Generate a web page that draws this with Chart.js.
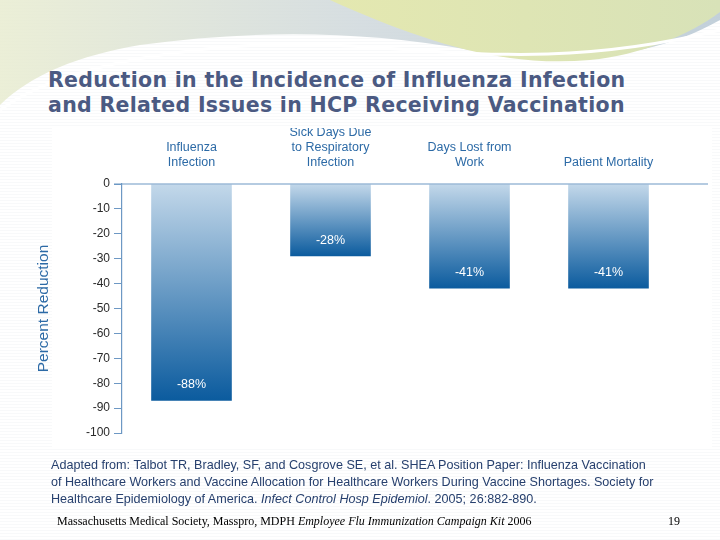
<!DOCTYPE html>
<html>
<head>
<meta charset="utf-8">
<script src="https://cdn.jsdelivr.net/npm/chart.js@4/dist/chart.umd.min.js"></script>
<style>
  body { margin: 0; }
  #slide { position: relative; width: 720px; height: 540px; overflow: hidden;
    background: repeating-linear-gradient(180deg, #ffffff 0px, #ffffff 2px, #f1f3f5 3px); }
  #panel { position: absolute; left: 52px; top: 128px; width: 660px; height: 320px; background: #fff; }
  #wave { position: absolute; left: 0; top: 0; }
  #titel { position: absolute; left: 48px; top: 68px; margin: 0; font: bold 20.5px "DejaVu Sans", sans-serif;
    color: #4b5a82; line-height: 25px; letter-spacing: 0.3px; }
  canvas { position: absolute; left: 0; top: 0; }
  #zdroj { position: absolute; left: 51px; top: 457px; font: 12.6px "Liberation Sans", Arial, sans-serif;
    color: #27406e; line-height: 17px; }
  #paticka { position: absolute; left: 57px; top: 514px; font: 12px "Liberation Serif", serif; color: #000; }
  #strana { position: absolute; left: 668px; top: 514px; font: 12px "Liberation Serif", serif; color: #000; }
</style>
</head>
<body>
<div id="slide">
  <svg id="wave" width="720" height="140">
    <defs>
      <linearGradient id="g1" x1="0" x2="1"><stop offset="0" stop-color="#e8ecd0"/><stop offset="0.5" stop-color="#cfd8dc"/><stop offset="1" stop-color="#b8c8d4"/></linearGradient>
      <linearGradient id="g2" x1="0" x2="1"><stop offset="0" stop-color="#e4e8b0"/><stop offset="1" stop-color="#d8e2b8"/></linearGradient>
    </defs>
    <path d="M0 0 H720 V20 C650 60 560 65 470 50 C360 30 250 30 140 45 C80 55 30 75 0 105 Z" fill="url(#g1)" opacity="0.85"/>
    <path d="M330 0 H720 V12 C690 35 640 55 590 60 C500 68 420 40 330 0 Z" fill="url(#g2)"/>
    <path d="M0 110 C60 65 200 40 330 45 C450 50 560 70 720 30" stroke="#ffffff" stroke-width="3" fill="none"/>
  </svg>
  <div id="panel"></div>
  <h1 id="titel">Reduction in the Incidence of Influenza Infection<br>and Related Issues in HCP Receiving Vaccination</h1>
  <canvas id="graf" width="720" height="540"></canvas>
  <div id="zdroj">Adapted from: Talbot TR, Bradley, SF, and Cosgrove SE, et al. SHEA Position Paper: Influenza Vaccination<br>of Healthcare Workers and Vaccine Allocation for Healthcare Workers During Vaccine Shortages. Society for<br>Healthcare Epidemiology of America. <i>Infect Control Hosp Epidemiol</i>. 2005; 26:882-890.</div>
  <div id="paticka">Massachusetts Medical Society, Masspro, MDPH <i>Employee Flu Immunization Campaign Kit</i> 2006</div>
  <div id="strana">19</div>
</div>
<script>
// --- DATA ---
const kategorie = [['Influenza', 'Infection'], ['Sick Days Due', 'to Respiratory', 'Infection'], ['Days Lost from', 'Work'], ['Patient Mortality']];
const hodnoty = [-87, -29, -42, -42];
const popisky = ['-88%', '-28%', '-41%', '-41%'];
const osaTicks = [0, -10, -20, -30, -40, -50, -60, -70, -80, -90, -100];

const modra = '#2c6aa6';

// gradient from zero line to bottom of each bar
function barva(ctx) {
  const chart = ctx.chart;
  const area = chart.chartArea;
  if (!area) return '#5b8fc0';
  const y = chart.scales.y;
  const y0 = y.getPixelForValue(0);
  const y1 = y.getPixelForValue(hodnoty[ctx.dataIndex]);
  const g = chart.ctx.createLinearGradient(0, y0, 0, y1);
  g.addColorStop(0, '#c3d8ea');
  g.addColorStop(1, '#0b5b9e');
  return g;
}

const popiskyPlugin = {
  id: 'popisky',
  afterDatasetsDraw(chart) {
    const c = chart.ctx;
    c.save();
    c.font = '12.5px "Liberation Sans", Arial, sans-serif';
    c.fillStyle = '#ffffff';
    c.textAlign = 'center';
    c.textBaseline = 'middle';
    chart.getDatasetMeta(0).data.forEach((bar, i) => {
      c.fillText(popisky[i], bar.x, bar.y - 16);
    });
    // zero line continues past last bar
    const y0 = chart.scales.y.getPixelForValue(0);
    c.strokeStyle = '#6d98c4';
    c.lineWidth = 1.2;
    c.beginPath();
    c.moveTo(chart.chartArea.left - 8, y0);
    c.lineTo(708, y0);
    c.stroke();
    c.restore();
  }
};

new Chart(document.getElementById('graf'), {
  type: 'bar',
  data: {
    labels: kategorie,
    datasets: [{ data: hodnoty, backgroundColor: barva, barPercentage: 0.58, categoryPercentage: 1 }]
  },
  options: {
    responsive: false,
    animation: false,
    layout: { padding: { left: 30, right: 42, top: 128, bottom: 107 } },
    plugins: { legend: { display: false }, tooltip: { enabled: false } },
    scales: {
      x: {
        position: 'top',
        grid: { display: false },
        border: { display: false },
        ticks: { color: modra, font: { size: 12.5, family: '"Liberation Sans", Arial, sans-serif' }, padding: 6, maxRotation: 0, autoSkip: false },
        afterFit: s => { s.height = 56; }
      },
      y: {
        min: -100, max: 0,
        afterBuildTicks: s => { s.ticks = osaTicks.map(v => ({ value: v })); },
        grid: { drawOnChartArea: false, tickLength: 8, color: '#6d98c4' },
        border: { color: '#6d98c4', width: 1.2 },
        ticks: { color: '#2a2a2a', font: { size: 12, family: '"Liberation Sans", Arial, sans-serif' }, padding: 4 },
        title: { display: true, text: 'Percent Reduction', color: modra, font: { size: 15.5, family: '"Liberation Sans", Arial, sans-serif' }, padding: 4 },
        afterFit: s => { s.width = 92; }
      }
    }
  },
  plugins: [popiskyPlugin]
});
</script>
</body>
</html>
